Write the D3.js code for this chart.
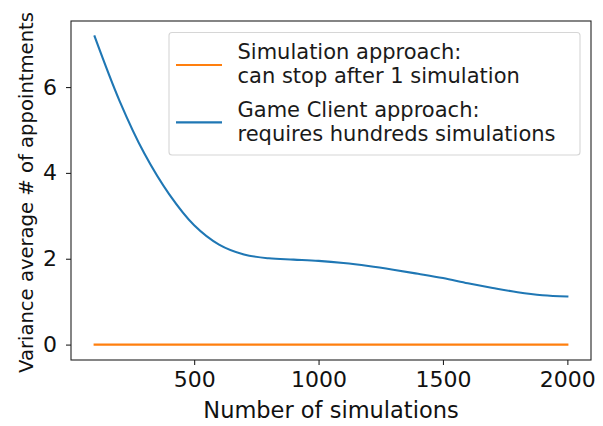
<!DOCTYPE html>
<html>
<head>
<meta charset="utf-8">
<script src="https://cdn.jsdelivr.net/npm/d3@7"></script>
<style>
  html, body { margin: 0; padding: 0; background: #fff; }
  svg { display: block; font-family: "DejaVu Sans", sans-serif; }
</style>
</head>
<body>
<div id="chart"></div>
<script>
// ---- data ----
const simulations = [100, 200, 300, 400, 500, 600, 700, 800, 900, 1000, 1100, 1200, 1300, 1400, 1500, 1600, 1700, 1800, 1900, 2000];
const gameClientVariance = [7.18, 5.68, 4.45, 3.50, 2.78, 2.33, 2.10, 2.01, 1.98, 1.95, 1.90, 1.83, 1.745, 1.65, 1.55, 1.43, 1.32, 1.22, 1.15, 1.12];
const simulationVariance = [0, 0, 0, 0, 0, 0, 0, 0, 0, 0, 0, 0, 0, 0, 0, 0, 0, 0, 0, 0];
const xTicks = [500, 1000, 1500, 2000];
const yTicks = [0, 2, 4, 6];
const seriesNames = ["Simulation approach:\ncan stop after 1 simulation", "Game Client approach:\nrequires hundreds simulations"];
const xLabel = "Number of simulations";
const yLabel = "Variance average # of appointments";

// ---- layout ----
const W = 603, H = 426;
const plot = { left: 71, right: 591, top: 21, bottom: 360 };
const colors = ["#ff7f0e", "#1f77b4"];

const svg = d3.select("#chart").append("svg").attr("width", W).attr("height", H);

const xMin = d3.min(simulations), xMax = d3.max(simulations);
const xPad = (xMax - xMin) * 0.05;
const x = d3.scaleLinear().domain([xMin - xPad, xMax + xPad]).range([plot.left, plot.right]);
const yAll = gameClientVariance.concat(simulationVariance);
const yMin = d3.min(yAll), yMax = d3.max(yAll);
const yPad = (yMax - yMin) * 0.05;
const y = d3.scaleLinear().domain([yMin - yPad, yMax + yPad]).range([plot.bottom, plot.top]);

// axes
const xAxis = d3.axisBottom(x).tickValues(xTicks).tickSize(5).tickPadding(6).tickFormat(d3.format("d"));
const yAxis = d3.axisLeft(y).tickValues(yTicks).tickSize(5).tickPadding(9).tickFormat(d3.format("d"));

const gx = svg.append("g").attr("transform", `translate(0,${plot.bottom})`).call(xAxis);
const gy = svg.append("g").attr("transform", `translate(${plot.left},0)`).call(yAxis);
[gx, gy].forEach(g => {
  g.select(".domain").remove();
  g.selectAll(".tick line").attr("stroke", "#222").attr("stroke-width", 1.1);
  g.selectAll(".tick text").attr("fill", "#111").style("font-size", "22px").style("font-family", "DejaVu Sans");
});
gx.selectAll(".tick text").attr("dy", "0.71em");

// lines
const line = d3.line().x((d, i) => x(simulations[i])).y(d => y(d)).curve(d3.curveCatmullRom.alpha(0.5));
const seriesData = [simulationVariance, gameClientVariance];
svg.append("g").selectAll("path").data(seriesData).join("path")
  .attr("d", d => line(d))
  .attr("fill", "none")
  .attr("stroke", (d, i) => colors[i])
  .attr("stroke-width", 2.1)
  .attr("stroke-linecap", "square");

// spines
svg.append("rect")
  .attr("x", plot.left).attr("y", plot.top)
  .attr("width", plot.right - plot.left).attr("height", plot.bottom - plot.top)
  .attr("fill", "none").attr("stroke", "#222").attr("stroke-width", 1.1);

// axis labels
svg.append("text").attr("x", (plot.left + plot.right) / 2).attr("y", 418)
  .attr("text-anchor", "middle").attr("fill", "#111").style("font-size", "22.5px").text(xLabel);
svg.append("text").attr("transform", `translate(33,${(plot.top + plot.bottom) / 2 + 2}) rotate(-90)`)
  .attr("text-anchor", "middle").attr("fill", "#111").style("font-size", "19.6px").text(yLabel);

// legend
const lg = svg.append("g");
lg.append("rect").attr("x", 169).attr("y", 32.5).attr("width", 411).attr("height", 122.5)
  .attr("rx", 3).attr("fill", "#fff").attr("fill-opacity", 0.8).attr("stroke", "#d6d6d6").attr("stroke-width", 1.1);
seriesNames.forEach((name, i) => {
  const base = 59.3 + i * 57.4;
  const lines = name.split("\n");
  lg.append("line").attr("x1", 176).attr("x2", 222)
    .attr("y1", base + 5.7).attr("y2", base + 5.7)
    .attr("stroke", colors[i]).attr("stroke-width", 2.1);
  lines.forEach((t, j) => {
    lg.append("text").attr("x", 237.5).attr("y", base + j * 24)
      .attr("fill", "#1a1a1a").style("font-size", "21px").text(t);
  });
});
</script>
</body>
</html>
